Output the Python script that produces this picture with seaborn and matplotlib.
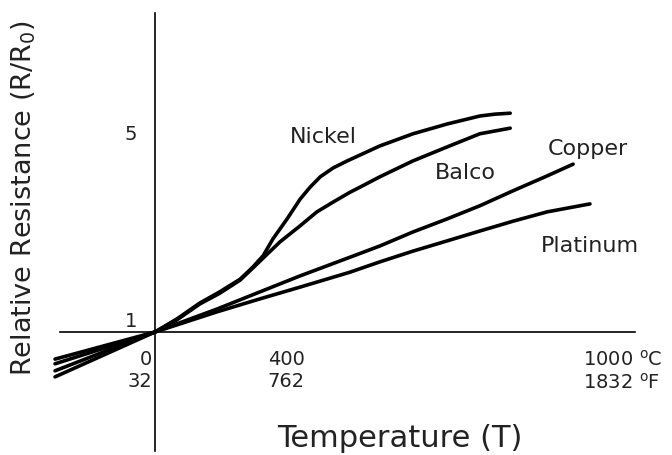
import numpy as np
import pandas as pd
import matplotlib
matplotlib.use("Agg")
import matplotlib.pyplot as plt
import matplotlib.transforms as mtransforms
import seaborn as sns

# curves (temperature in deg C, R/R0)
NICKEL_T = [-305, 0, 67, 137, 198, 260, 299, 330, 360, 402, 425, 443, 461, 484, 509, 567,
            626, 687, 745, 772, 799]
NICKEL_R = [0.04, 1.0, 1.28, 1.62, 1.86, 2.13, 2.39, 2.63, 2.99, 3.42, 3.84, 4.10, 4.32, 4.51, 4.66, 4.98,
            5.24, 5.45, 5.62, 5.66, 5.68]

BALCO_T = [-305, 0, 67, 137, 198, 260, 299, 330, 382, 425, 455, 484, 514, 532, 567,
           626, 687, 745, 799]
BALCO_R = [0.17, 1.0, 1.26, 1.60, 1.83, 2.11, 2.37, 2.58, 2.93, 3.27, 3.57, 3.78, 3.99, 4.10, 4.32,
           4.66, 4.96, 5.24, 5.36]

COPPER_T = [-305, 0, 189, 321, 425, 514, 567, 626, 687, 745, 804, 865, 911]
COPPER_R = [0.32, 1.0, 1.49, 1.86, 2.20, 2.60, 2.84, 3.14, 3.42, 3.70, 4.02, 4.34, 4.59]

PLATINUM_T = [-305, 0, 189, 321, 425, 514, 567, 626, 687, 745, 804, 865, 941]
PLATINUM_R = [0.42, 1.0, 1.43, 1.71, 1.96, 2.28, 2.50, 2.73, 2.95, 3.16, 3.37, 3.57, 3.74]

METALS = ["Nickel", "Balco", "Copper", "Platinum"]
XTICKS = [0, 400, 1000]
XTICK_LABELS = ["0\n32", "400\n762", "1000 $^{\\rm o}$C\n1832 $^{\\rm o}$F"]
YTICKS = [1, 5]
YTICK_LABELS = ["1", "5"]

# where the curve names sit (data coords)
NAME_POS = {"Nickel": (466, 5.19), "Balco": (720, 4.42),
            "Copper": (938, 4.94), "Platinum": (941, 2.86)}

# the original axis is not linear in T; piecewise mapping
T_KNOTS = [-3000, 0, 400, 1000, 4000]
P_KNOTS = [-982.5, 0, 131, 468, 2153]


def fwd(t):
    return np.interp(t, T_KNOTS, P_KNOTS)


def inv(p):
    return np.interp(p, P_KNOTS, T_KNOTS)


curves = {"Nickel": (NICKEL_T, NICKEL_R), "Balco": (BALCO_T, BALCO_R),
          "Copper": (COPPER_T, COPPER_R), "Platinum": (PLATINUM_T, PLATINUM_R)}
df = pd.concat([pd.DataFrame({"T": t, "R": r, "metal": m}) for m, (t, r) in curves.items()],
               ignore_index=True)

sns.set_style("white")
plt.rcParams["font.family"] = ["DejaVu Sans"]
plt.rcParams["mathtext.fontset"] = "dejavusans"

fig = plt.figure(figsize=(6.72, 4.56), dpi=100)
ax = fig.add_axes([0, 0, 1, 1])
ax.patch.set_alpha(0)

sns.lineplot(data=df, x="T", y="R", hue="metal", palette={m: "black" for m in METALS},
             estimator=None, sort=False, legend=False, linewidth=2.6, ax=ax)
for ln in ax.lines:
    ln.set_solid_joinstyle("round")
    ln.set_solid_capstyle("round")

ax.set_xscale("function", functions=(fwd, inv))
ax.set_xlim(-473, 1087)
ax.set_ylim(-1.631, 8.123)

for s in ["top", "right"]:
    ax.spines[s].set_visible(False)
ax.spines["left"].set_position(("data", 0))
ax.spines["bottom"].set_position(("data", 1))
ax.spines["left"].set_bounds(-1.545, 7.823)
ax.spines["bottom"].set_bounds(-290, 1021)
for s in ["left", "bottom"]:
    ax.spines[s].set_linewidth(1.2)
    ax.spines[s].set_color("black")

ax.set_xticks(XTICKS, labels=XTICK_LABELS)
ax.set_yticks(YTICKS, labels=YTICK_LABELS)
ax.tick_params(axis="x", length=0, pad=12, labelsize=14, labelcolor="#222222")
ax.tick_params(axis="y", length=0, pad=13, labelsize=14, labelcolor="#222222")

xl = ax.get_xticklabels()
xl[0].set_ha("right")
xl[0].set_multialignment("right")
xl[0].set_transform(xl[0].get_transform() +
                    mtransforms.ScaledTranslation(-2 / 72, 0, fig.dpi_scale_trans))
xl[2].set_multialignment("left")
for lab in ax.get_yticklabels():
    lab.set_transform(lab.get_transform() +
                      mtransforms.ScaledTranslation(0, 9.5 / 72, fig.dpi_scale_trans))

for name, (tx, ry) in NAME_POS.items():
    ax.text(tx, ry, name, fontsize=16, ha="center", va="center", color="#222222")

ax.set_xlabel("Temperature (T)", fontsize=22, color="#222222")
ax.set_ylabel("Relative Resistance (R/R$_0$)", fontsize=19.5, color="#222222")
ax.xaxis.set_label_coords(400 / 672, 1 - 424 / 456)
ax.yaxis.set_label_coords(38 / 672, 1 - 198 / 456)

fig.savefig("out.png", dpi=100)
